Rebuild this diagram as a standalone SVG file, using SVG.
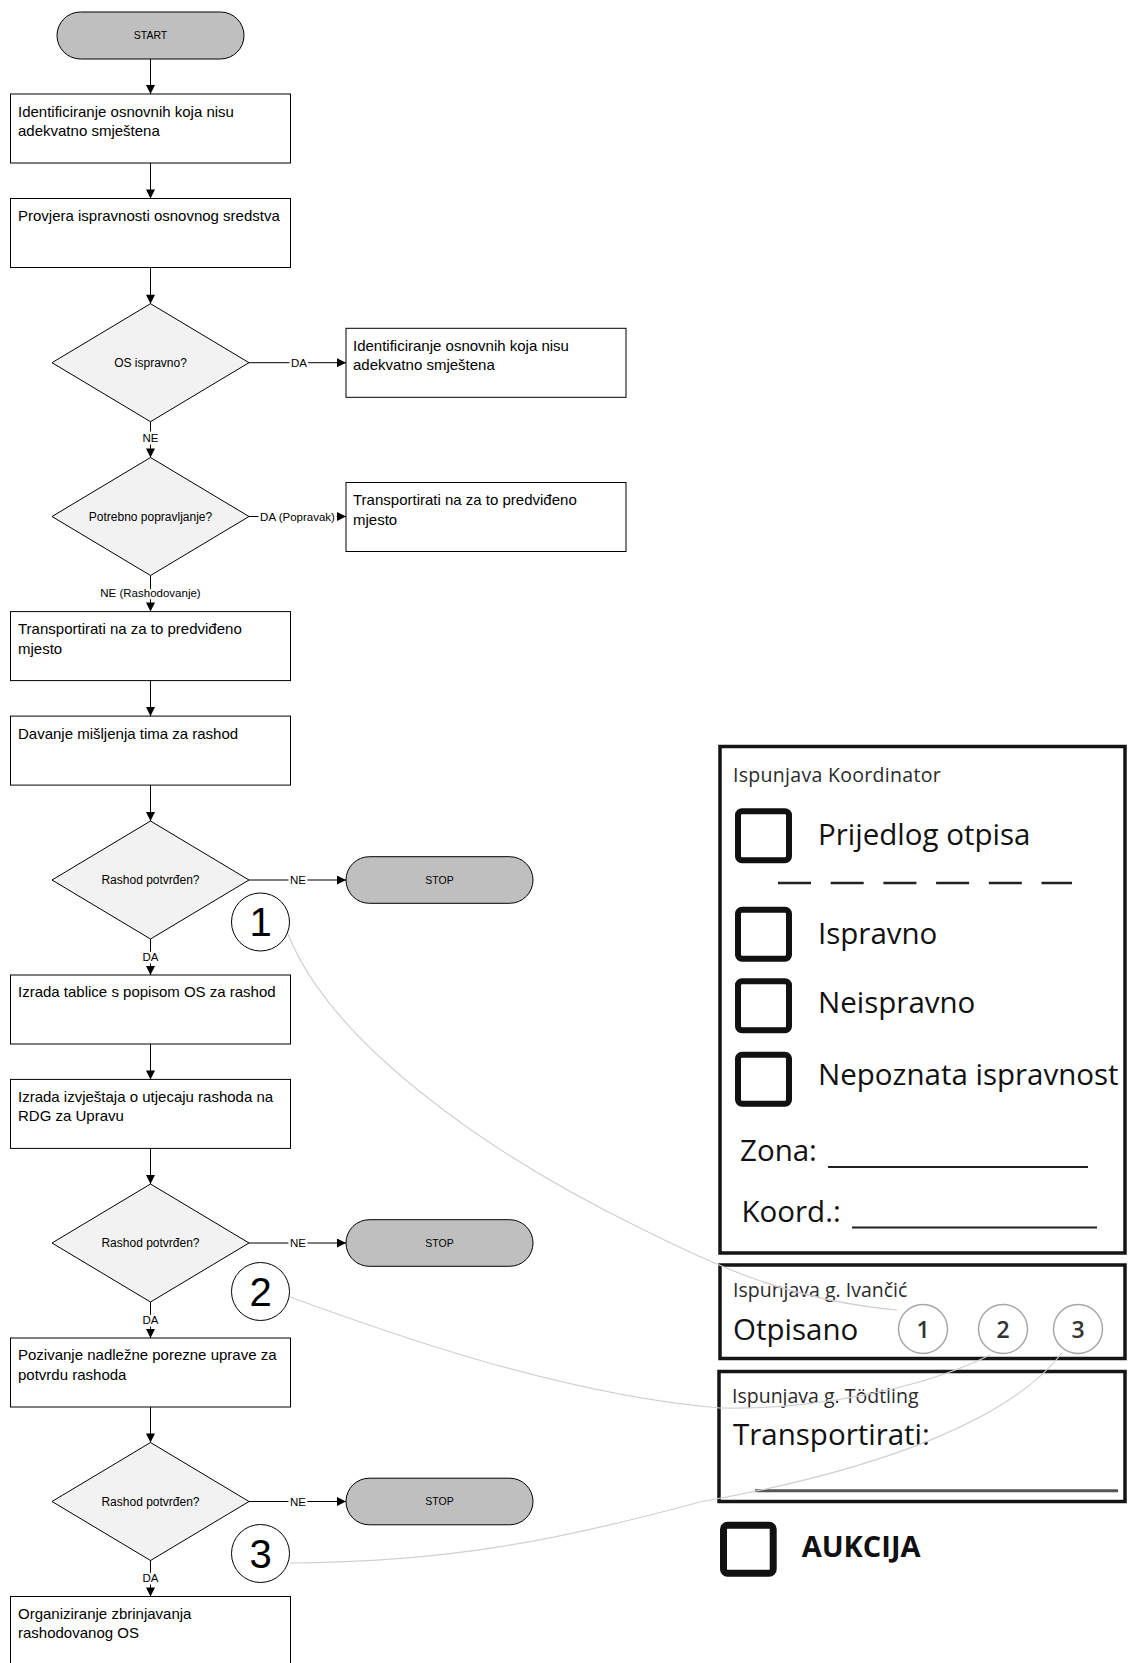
<svg xmlns="http://www.w3.org/2000/svg" width="1128" height="1663" viewBox="0 0 1128 1663">
<defs>
<marker id="arr" viewBox="0 0 10 10" refX="10" refY="5" markerWidth="9.5" markerHeight="9" markerUnits="userSpaceOnUse" orient="auto"><path d="M0,0 L10,5 L0,10 z" fill="#000"/></marker>
<style>
.box{fill:#fff;stroke:#000;stroke-width:1}
.dec{fill:#f2f2f2;stroke:#000;stroke-width:1}
.term{fill:#bfbfbf;stroke:#000;stroke-width:1}
.t{font-family:"Liberation Sans",Arial,sans-serif;font-size:15px;fill:#000}
.dt{font-family:"Liberation Sans",Arial,sans-serif;font-size:12px;fill:#000;text-anchor:middle}
.tt{font-family:"Liberation Sans",Arial,sans-serif;font-size:10.5px;fill:#000;text-anchor:middle}
.lbl{font-family:"Liberation Sans",Arial,sans-serif;font-size:11.5px;fill:#000;text-anchor:middle;stroke:#fff;stroke-width:5px;stroke-linejoin:round;paint-order:stroke}
.edge{stroke:#000;stroke-width:1;fill:none;marker-end:url(#arr)}
.link{stroke:#d0d0d0;stroke-width:1.2;fill:none}
.call{fill:#fff;stroke:#000;stroke-width:1}
.num{font-family:"Liberation Sans",Arial,sans-serif;font-size:40px;fill:#000;text-anchor:middle}
.frame{fill:#fff;stroke:#151515;stroke-width:3.5}
.chk{fill:none;stroke:#111;stroke-width:6}
.f{font-family:"Open Sans","Liberation Sans",sans-serif;fill:#111}
.big{font-size:29.5px}
.small{font-size:19.5px;fill:#2a2a2a}
.rule{stroke:#222;stroke-width:2;fill:none}
.oc{fill:#fff;stroke:#a8a8a8;stroke-width:1.5}
.od{font-family:"Open Sans","Liberation Sans",sans-serif;font-size:23px;font-weight:600;fill:#333;text-anchor:middle}
</style>
</defs>
<rect x="0" y="0" width="1128" height="1663" fill="#fff"/>

<g id="start"><rect class="term" x="57" y="12" width="187" height="47" rx="23.5"/><text class="tt" x="150.5" y="39">START</text></g>

<g id="box1"><rect class="box" x="10.5" y="94" width="280" height="69"/><text class="t" x="18" y="116.5">Identificiranje osnovnih koja nisu</text><text class="t" x="18" y="136">adekvatno smještena</text></g>
<g id="box2"><rect class="box" x="10.5" y="198.5" width="280" height="69"/><text class="t" x="18" y="221">Provjera ispravnosti osnovnog sredstva</text></g>
<g id="dec1"><polygon class="dec" points="150.5,303.7 249,362.7 150.5,421.7 52,362.7"/><text class="dt" x="150.5" y="366.8">OS ispravno?</text></g>
<g id="rbox1"><rect class="box" x="346" y="328.3" width="280" height="69"/><text class="t" x="353" y="350.7">Identificiranje osnovnih koja nisu</text><text class="t" x="353" y="370.2">adekvatno smještena</text></g>
<g id="dec2"><polygon class="dec" points="150.5,457.5 249,516.5 150.5,575.5 52,516.5"/><text class="dt" x="150.5" y="520.6">Potrebno popravljanje?</text></g>
<g id="rbox2"><rect class="box" x="346" y="482.5" width="280" height="69"/><text class="t" x="353" y="505">Transportirati na za to predviđeno</text><text class="t" x="353" y="524.5">mjesto</text></g>
<g id="box3"><rect class="box" x="10.5" y="611.6" width="280" height="69"/><text class="t" x="18" y="634">Transportirati na za to predviđeno</text><text class="t" x="18" y="653.5">mjesto</text></g>
<g id="box4"><rect class="box" x="10.5" y="716.1" width="280" height="69"/><text class="t" x="18" y="738.5">Davanje mišljenja tima za rashod</text></g>
<g id="dec3"><polygon class="dec" points="150.5,821 249,880 150.5,939 52,880"/><text class="dt" x="150.5" y="884.1">Rashod potvrđen?</text></g>
<g id="stop1"><rect class="term" x="346" y="856.7" width="187" height="46.6" rx="23.3"/><text class="tt" x="439.5" y="883.8">STOP</text></g>
<g id="mark1"><circle class="call" cx="260.5" cy="922" r="29"/><text class="num" x="260.5" y="936">1</text></g>
<g id="box5"><rect class="box" x="10.5" y="975" width="280" height="69"/><text class="t" x="18" y="997.4">Izrada tablice s popisom OS za rashod</text></g>
<g id="box6"><rect class="box" x="10.5" y="1079.4" width="280" height="69"/><text class="t" x="18" y="1101.8">Izrada izvještaja o utjecaju rashoda na</text><text class="t" x="18" y="1121.3">RDG za Upravu</text></g>
<g id="dec4"><polygon class="dec" points="150.5,1184 249,1243 150.5,1302 52,1243"/><text class="dt" x="150.5" y="1247.1">Rashod potvrđen?</text></g>
<g id="stop2"><rect class="term" x="346" y="1219.7" width="187" height="46.6" rx="23.3"/><text class="tt" x="439.5" y="1246.8">STOP</text></g>
<g id="mark2"><circle class="call" cx="260.5" cy="1291.5" r="29"/><text class="num" x="260.5" y="1305.5">2</text></g>
<g id="box7"><rect class="box" x="10.5" y="1338" width="280" height="69"/><text class="t" x="18" y="1360.4">Pozivanje nadležne porezne uprave za</text><text class="t" x="18" y="1379.9">potvrdu rashoda</text></g>
<g id="dec5"><polygon class="dec" points="150.5,1442.5 249,1501.5 150.5,1560.5 52,1501.5"/><text class="dt" x="150.5" y="1505.6">Rashod potvrđen?</text></g>
<g id="stop3"><rect class="term" x="346" y="1478.2" width="187" height="46.6" rx="23.3"/><text class="tt" x="439.5" y="1505.3">STOP</text></g>
<g id="mark3"><circle class="call" cx="260.5" cy="1553.5" r="29"/><text class="num" x="260.5" y="1567.5">3</text></g>
<g id="box8"><rect class="box" x="10.5" y="1596.5" width="280" height="69"/><text class="t" x="18" y="1618.9">Organiziranje zbrinjavanja</text><text class="t" x="18" y="1638.4">rashodovanog OS</text></g>

<g id="form">
<rect class="frame" x="720" y="746.5" width="405" height="506.5"/>
<text class="f small" x="733" y="781.5" letter-spacing="0.3">Ispunjava Koordinator</text>
<rect class="chk" x="738" y="811.3" width="51" height="49" rx="4"/>
<text class="f big" x="818" y="845">Prijedlog otpisa</text>
<line x1="778" y1="883" x2="1072" y2="883" stroke="#222" stroke-width="2.5" stroke-dasharray="33 19.7"/>
<rect class="chk" x="738" y="909.7" width="51" height="49" rx="4"/>
<text class="f big" x="818" y="943.5">Ispravno</text>
<rect class="chk" x="738" y="981.3" width="51" height="49" rx="4"/>
<text class="f big" x="818" y="1012.5">Neispravno</text>
<rect class="chk" x="738" y="1054.7" width="51" height="49" rx="4"/>
<text class="f big" x="818" y="1085">Nepoznata ispravnost</text>
<text class="f big" x="740" y="1161">Zona:</text>
<line class="rule" x1="828" y1="1167" x2="1088" y2="1167"/>
<text class="f big" x="741.5" y="1221.5">Koord.:</text>
<line class="rule" x1="852" y1="1227.5" x2="1097" y2="1227.5"/>

<rect class="frame" x="720" y="1265" width="405" height="93.5"/>
<text class="f small" x="733" y="1296.7">Ispunjava g. Ivančić</text>
<text class="f big" x="733" y="1340">Otpisano</text>
<circle class="oc" cx="923" cy="1329" r="24.5"/><text class="od" x="923" y="1338">1</text>
<circle class="oc" cx="1003" cy="1329" r="24.5"/><text class="od" x="1003" y="1338">2</text>
<circle class="oc" cx="1078" cy="1329" r="24.5"/><text class="od" x="1078" y="1338">3</text>

<rect class="frame" x="719" y="1371.5" width="406" height="130"/>
<text class="f small" x="732" y="1403" fill="#444">Ispunjava g. Tödtling</text>
<text class="f big" x="733" y="1445">Transportirati:</text>
<line x1="755" y1="1490.7" x2="1118" y2="1490.7" stroke="#555" stroke-width="3"/>

<rect x="723.5" y="1525.2" width="49.7" height="48" rx="4" fill="none" stroke="#111" stroke-width="7"/>
<text class="f" x="801.7" y="1556.7" font-size="29px" font-weight="700">AUKCIJA</text>
</g>

<g id="connectors">
<line class="edge" x1="150.5" y1="59" x2="150.5" y2="94"/>
<line class="edge" x1="150.5" y1="163" x2="150.5" y2="198.5"/>
<line class="edge" x1="150.5" y1="267.5" x2="150.5" y2="303.7"/>
<line class="edge" x1="150.5" y1="421.7" x2="150.5" y2="457.5"/>
<line class="edge" x1="150.5" y1="575.5" x2="150.5" y2="611.6"/>
<line class="edge" x1="150.5" y1="680.6" x2="150.5" y2="716.1"/>
<line class="edge" x1="150.5" y1="785.1" x2="150.5" y2="821"/>
<line class="edge" x1="150.5" y1="939" x2="150.5" y2="975"/>
<line class="edge" x1="150.5" y1="1044" x2="150.5" y2="1079.4"/>
<line class="edge" x1="150.5" y1="1148.4" x2="150.5" y2="1184"/>
<line class="edge" x1="150.5" y1="1302" x2="150.5" y2="1338"/>
<line class="edge" x1="150.5" y1="1407" x2="150.5" y2="1442.5"/>
<line class="edge" x1="150.5" y1="1560.5" x2="150.5" y2="1596.5"/>
<line class="edge" x1="249" y1="362.7" x2="346" y2="362.7"/>
<line class="edge" x1="249" y1="516.5" x2="346" y2="516.5"/>
<line class="edge" x1="249" y1="880" x2="346" y2="880"/>
<line class="edge" x1="249" y1="1243" x2="346" y2="1243"/>
<line class="edge" x1="249" y1="1501.5" x2="346" y2="1501.5"/>
<text class="lbl" x="299" y="366.8">DA</text>
<text class="lbl" x="150.5" y="442.2">NE</text>
<text class="lbl" x="297.5" y="520.6">DA (Popravak)</text>
<text class="lbl" x="150.5" y="597">NE (Rashodovanje)</text>
<text class="lbl" x="298" y="884.1">NE</text>
<text class="lbl" x="150.5" y="961">DA</text>
<text class="lbl" x="298" y="1247.1">NE</text>
<text class="lbl" x="150.5" y="1323.5">DA</text>
<text class="lbl" x="298" y="1505.6">NE</text>
<text class="lbl" x="150.5" y="1582">DA</text>
<path class="link" d="M288,934 C330,1040 480,1150 640,1228 C720,1268 790,1300 897,1310"/>
<path class="link" d="M290,1297 C380,1330 560,1395 720,1408 C810,1410 920,1390 990,1355"/>
<path class="link" d="M290,1563 C450,1562 560,1540 700,1502 C880,1470 1010,1420 1062,1353"/>
</g>
</svg>
